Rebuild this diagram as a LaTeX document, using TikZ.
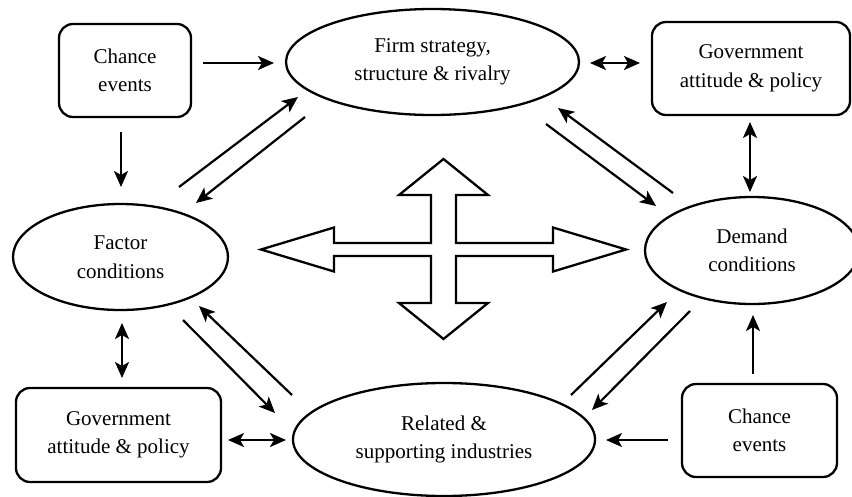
\documentclass[tikz,border=0pt]{standalone}
\usepackage{fontspec}
\setmainfont{Liberation Serif}
\usetikzlibrary{shapes.geometric,arrows.meta}
\tikzset{
  txt/.style={align=center,font=\fontsize{21}{28.5}\selectfont,inner sep=0pt},
  rbox/.style={txt,draw,line width=2.3pt,rounded corners=14pt},
  oval/.style={txt,draw,ellipse,line width=2.3pt},
  arr/.style={line width=2.2pt,-{Stealth[length=16pt,width=14pt,inset=4pt]}},
  darr/.style={line width=2.2pt,{Stealth[length=16pt,width=14pt,inset=4pt]}-{Stealth[length=16pt,width=14pt,inset=4pt]}},
  crossarrow/.style={draw,line width=2.3pt,line join=miter,fill=white}
}
\begin{document}
\begin{tikzpicture}[x=1pt,y=-1pt]
\useasboundingbox (0,0) rectangle (852,496);
% nodes
\node[rbox,minimum width=132pt,minimum height=93pt] (chanceA) at (125,70.5) {Chance\\events};
\node[oval,minimum width=293pt,minimum height=106pt] (firm) at (432.5,62) {Firm strategy,\\structure \& rivalry};
\node[rbox,minimum width=198pt,minimum height=93pt] (govA) at (751,68.5) {Government\\attitude \& policy};
\node[oval,minimum width=215pt,minimum height=106pt] (factor) at (120.5,257) {Factor\\conditions};
\node[oval,minimum width=214pt,minimum height=107pt] (demand) at (752,250.5) {Demand\\conditions};
\node[oval,minimum width=302pt,minimum height=113pt] (related) at (444,439.5) {Related \&\\supporting industries};
\node[rbox,minimum width=205pt,minimum height=94pt] (govB) at (118.5,435) {Government\\attitude \& policy};
\node[rbox,minimum width=155pt,minimum height=93pt] (chanceB) at (759.5,430.5) {Chance\\events};
% central cross
\draw[crossarrow] (261,249.5) -- (334,227.5) -- (334,243) -- (431,243) -- (431,195) -- (399,195)
  -- (443.5,159) -- (488,195) -- (456,195) -- (456,243) -- (553,243) -- (553,227.5)
  -- (626,249.5) -- (553,271.5) -- (553,256) -- (456,256) -- (456,303) -- (488,303)
  -- (443.5,339) -- (399,303) -- (431,303) -- (431,256) -- (334,256) -- (334,271.5) -- cycle;
% connector end points
\coordinate (c1s) at (203,63);   \coordinate (c1e) at (274,63);
\coordinate (c2s) at (590,63);   \coordinate (c2e) at (640,63);
\coordinate (c3s) at (750,122);  \coordinate (c3e) at (750,192);
\coordinate (c4s) at (121,132);  \coordinate (c4e) at (121,187);
\coordinate (c5s) at (179,187);  \coordinate (c5e) at (298,97);
\coordinate (c6s) at (305,117);  \coordinate (c6e) at (196,203);
\coordinate (c7s) at (546,124);  \coordinate (c7e) at (656,206);
\coordinate (c8s) at (673,193);  \coordinate (c8e) at (558,108);
\coordinate (c9s) at (122,323);  \coordinate (c9e) at (122,378);
\coordinate (c10s) at (183,320); \coordinate (c10e) at (275,413);
\coordinate (c11s) at (292,395); \coordinate (c11e) at (199,306);
\coordinate (c12s) at (228,440); \coordinate (c12e) at (286,440);
\coordinate (c13s) at (571,395); \coordinate (c13e) at (667,302);
\coordinate (c14s) at (690,311); \coordinate (c14e) at (592,410);
\coordinate (c15s) at (668,440); \coordinate (c15e) at (606,440);
\coordinate (c16s) at (753,374); \coordinate (c16e) at (753,315);
% connectors
\draw[arr] (c1s) -- (c1e);
\draw[darr] (c2s) -- (c2e);
\draw[darr] (c3s) -- (c3e);
\draw[arr] (c4s) -- (c4e);
\draw[arr] (c5s) -- (c5e);
\draw[arr] (c6s) -- (c6e);
\draw[arr] (c7s) -- (c7e);
\draw[arr] (c8s) -- (c8e);
\draw[darr] (c9s) -- (c9e);
\draw[arr] (c10s) -- (c10e);
\draw[arr] (c11s) -- (c11e);
\draw[darr] (c12s) -- (c12e);
\draw[arr] (c13s) -- (c13e);
\draw[arr] (c14s) -- (c14e);
\draw[arr] (c15s) -- (c15e);
\draw[arr] (c16s) -- (c16e);
\end{tikzpicture}
\end{document}
